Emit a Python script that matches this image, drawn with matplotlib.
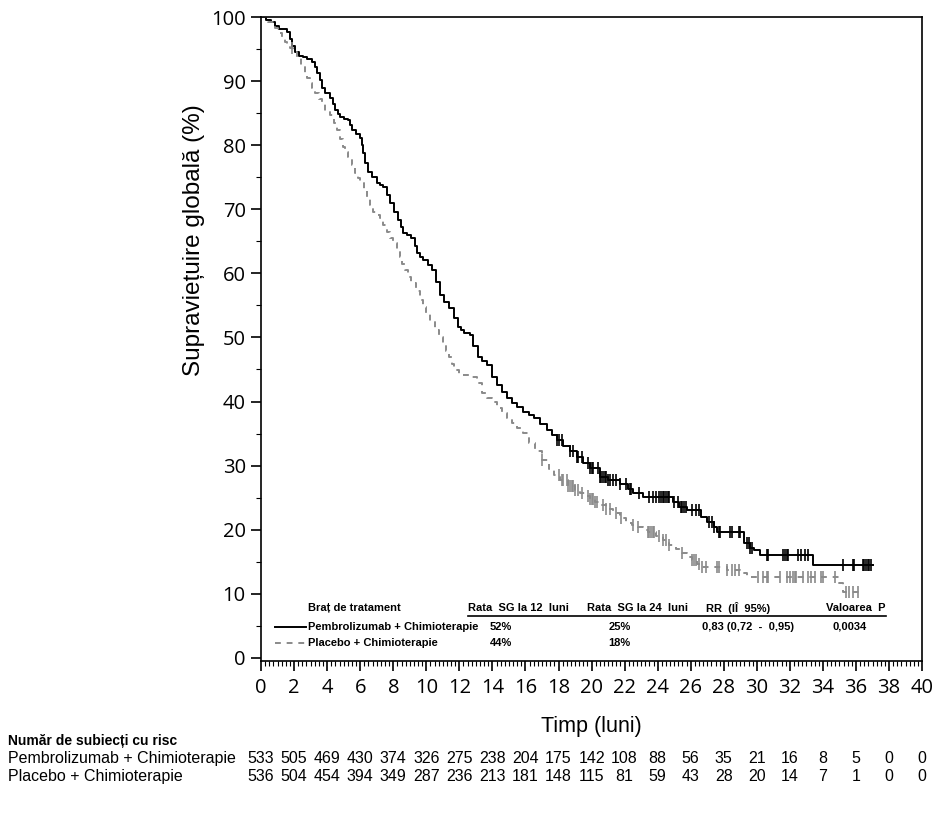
import numpy as np
import matplotlib
matplotlib.use('Agg')
import matplotlib.pyplot as plt
from matplotlib.ticker import MultipleLocator
import matplotlib.transforms as mtransforms

# Curbe Kaplan-Meier (timp in luni, supravietuire in %)
pembro_t = [0, 0.3, 0.6, 0.85, 1.1, 1.6, 1.75, 1.9, 2.06, 2.3, 2.54, 2.8, 3.09, 3.25, 3.39,
            3.55, 3.69, 3.9, 4.18, 4.33, 4.48, 4.63, 4.78, 5.0, 5.26, 5.38, 5.5, 5.75, 5.99,
            6.08, 6.17, 6.3, 6.47, 6.7, 7.0, 7.2, 7.38, 7.6, 7.8, 8.05, 8.3, 8.45, 8.6,
            8.85, 9.1, 9.3, 9.44, 9.6, 9.8, 10.1, 10.35, 10.6, 10.83, 11.1, 11.4, 11.65,
            11.9, 12.1, 12.3, 12.65, 12.85, 13.1, 13.4, 13.7, 14.0, 14.3, 14.6, 14.9,
            15.2, 15.5, 15.85, 16.2, 16.5, 16.9, 17.3, 17.6, 17.9, 18.3, 18.7, 19.1, 19.5,
            19.9, 20.5, 21.0, 21.7, 22.2, 22.5, 23.1, 24.9, 25.3, 25.8, 26.6, 27.0, 27.4,
            27.6, 29.2, 29.6, 29.8, 30.2, 33.4, 37.0]
pembro_s = [100, 99.6, 99.2, 98.7, 98.2, 97.7, 96.6, 95.5, 94.5, 94.0, 93.8, 93.4, 93.0, 92.2, 91.3,
            90.2, 88.9, 88.2, 87.4, 86.5, 85.5, 84.9, 84.4, 84.1, 83.9, 83.1, 82.4, 81.7, 81.1,
            80.0, 78.8, 77.3, 75.8, 75.0, 74.1, 73.8, 73.5, 72.2, 71.0, 69.6, 68.3, 67.3, 66.3,
            66.0, 65.5, 64.3, 63.2, 62.6, 62.1, 61.3, 60.5, 58.6, 56.6, 55.6, 54.6, 53.1,
            51.6, 51.1, 50.7, 50.4, 48.7, 47.0, 46.4, 45.7, 43.8, 42.6, 41.5, 40.6,
            39.8, 39.1, 38.4, 37.9, 37.4, 36.5, 35.6, 34.8, 34.0, 33.0, 32.2, 31.4, 30.4,
            29.6, 28.2, 27.8, 27.2, 26.3, 25.7, 25.1, 24.3, 23.6, 23.0, 21.9, 21.2, 20.4,
            19.7, 17.9, 17.2, 16.8, 16.1, 14.5, 14.5]

placebo_t = [0, 0.4, 0.85, 1.05, 1.25, 1.45, 1.6, 1.75, 1.94, 2.18, 2.4, 2.66, 2.8, 2.97,
             3.1, 3.27, 3.5, 3.69, 3.87, 4.18, 4.4, 4.6, 4.78, 4.96, 5.1, 5.26, 5.5, 5.69,
             5.85, 5.99, 6.2, 6.41, 6.6, 6.78, 7.0, 7.2, 7.4, 7.62, 7.8, 8.0, 8.2, 8.4,
             8.55, 8.7, 8.9, 9.1, 9.35, 9.6, 9.8, 10.0, 10.25, 10.5, 10.75, 11.0, 11.2,
             11.4, 11.55, 11.7, 12.0, 12.75, 13.05, 13.4, 13.7, 14.0, 14.3, 14.6, 14.9,
             15.2, 15.5, 15.85, 16.2, 16.6, 17.0, 17.4, 17.7, 18.1, 18.6, 19.0, 19.3,
             19.6, 19.9, 20.2, 20.5, 20.9, 21.3, 21.7, 22.1, 22.45, 22.8, 23.1, 23.4,
             23.9, 24.3, 24.7, 25.1, 25.5, 25.8, 26.1, 26.4, 26.7, 28.2, 29.0, 29.4,
             35.0, 35.2, 36.2]
placebo_s = [100, 99.3, 98.3, 97.6, 96.8, 96.1, 95.6, 95.2, 94.5, 93.6, 92.6, 91.3, 90.5, 89.7,
             88.9, 88.1, 87.3, 86.6, 85.2, 84.7, 83.5, 82.4, 81.0, 79.7, 79.0, 78.2, 76.9, 75.7,
             74.9, 74.1, 73.0, 71.9, 70.7, 69.6, 69.1, 68.6, 67.5, 66.5, 65.6, 64.7, 63.6, 62.6,
             61.5, 60.5, 59.5, 58.5, 57.2, 55.9, 54.8, 53.8, 52.5, 51.2, 50.0, 48.8, 47.9,
             47.0, 45.9, 44.9, 44.1, 43.8, 42.9, 41.3, 40.6, 39.9, 39.0, 38.2, 37.4,
             36.7, 35.9, 35.1, 33.5, 32.2, 30.9, 29.5, 28.5, 27.8, 26.8, 26.2, 25.7,
             25.2, 24.8, 24.3, 23.9, 23.2, 22.6, 21.8, 21.1, 20.7, 20.4, 20.0, 19.7,
             19.0, 18.4, 17.6, 16.9, 16.4, 15.8, 15.3, 14.7, 14.2, 13.7, 13.3, 12.6,
             11.7, 10.3, 10.3]

# Momente de cenzurare
pembro_cens = [17.9, 18.0, 18.2, 18.7, 18.9, 19.1, 19.2, 19.4, 19.8, 19.9, 20.0, 20.1, 20.4,
               20.5, 20.6, 20.7, 20.8, 20.9, 21.0, 21.1, 21.3, 21.5, 21.7, 22.1, 22.3, 22.4,
               22.9, 23.5, 23.7, 23.9, 24.1, 24.2, 24.3, 24.4, 24.5, 24.6, 24.7, 25.0, 25.2,
               25.4, 25.5, 25.6, 25.7, 26.1, 26.3, 26.5, 27.1, 27.3, 27.4, 27.7, 27.8, 28.4,
               28.5, 28.9, 29.0, 29.4, 29.5, 29.6, 29.7, 30.6, 30.7, 31.6, 31.7, 31.8, 31.9,
               32.5, 32.7, 32.9, 33.1, 35.2, 35.8, 35.9, 36.4, 36.5, 36.6, 36.7, 36.8, 36.9]
placebo_cens = [1.9, 17.0, 18.0, 18.2, 18.3, 18.5, 18.6, 18.7, 18.8, 18.9, 19.0, 19.2, 19.4,
                19.8, 19.9, 20.0, 20.1, 20.2, 20.3, 20.7, 20.9, 21.1, 21.5, 21.8, 22.5, 22.8,
                23.4, 23.5, 23.6, 23.7, 23.8, 24.1, 24.3, 24.5, 24.7, 25.5, 26.1, 26.2, 26.3,
                26.5, 26.7, 26.9, 27.6, 27.7, 28.2, 28.5, 28.7, 28.9, 30.1, 30.4, 30.6, 30.7,
                31.4, 31.8, 32.0, 32.2, 32.3, 32.4, 32.8, 33.1, 33.3, 33.5, 33.9, 34.0, 34.7,
                35.4, 35.6, 35.8, 36.1]

# Numar de subiecti cu risc
risk_times = list(range(0, 41, 2))
risk_pembro = [533, 505, 469, 430, 374, 326, 275, 238, 204, 175, 142, 108, 88, 56, 35, 21, 16, 8, 5, 0, 0]
risk_placebo = [536, 504, 454, 394, 349, 287, 236, 213, 181, 148, 115, 81, 59, 43, 28, 20, 14, 7, 1, 0, 0]

arm_names = ['Pembrolizumab + Chimioterapie', 'Placebo + Chimioterapie']
rate12 = ['52%', '44%']
rate24 = ['25%', '18%']
hr_text = '0,83 (0,72  -  0,95)'
p_text = '0,0034'

BLACK = '#000000'
GRAY = '#8a8a8a'


def step_value(t, s, x):
    idx = np.searchsorted(np.asarray(t), x, side='right') - 1
    return np.asarray(s)[idx]


fig = plt.figure(figsize=(9.39, 8.19), dpi=100)
ax = fig.add_axes([0.278, 0.193, 0.704, 0.786])

# curbele
ax.step(pembro_t, pembro_s, where='post', color=BLACK, lw=1.4)
ax.step(placebo_t, placebo_s, where='post', color=GRAY, lw=1.4, dashes=(3, 3))

# cenzurari
ax.plot(pembro_cens, step_value(pembro_t, pembro_s, pembro_cens), ls='none',
        marker='|', ms=9, mew=1.2, color=BLACK)
ax.plot(placebo_cens, step_value(placebo_t, placebo_s, placebo_cens), ls='none',
        marker='|', ms=9, mew=1.2, color=GRAY)

ax.set_xlim(0, 40)
ax.set_ylim(-0.5, 100)
ax.xaxis.set_major_locator(MultipleLocator(2))
ax.xaxis.set_minor_locator(MultipleLocator(0.25))
ax.yaxis.set_major_locator(MultipleLocator(10))
ax.yaxis.set_minor_locator(MultipleLocator(5))
ax.tick_params(which='major', length=7, width=1.2, labelsize=14.5)
ax.tick_params(axis='y', pad=4)
ax.tick_params(axis='x', pad=5)
ax.tick_params(which='minor', length=3.5, width=0.8)
for lab in ax.get_xticklabels() + ax.get_yticklabels():
    lab.set_fontfamily('Open Sans')
for sp in ax.spines.values():
    sp.set_linewidth(1.2)

ax.set_xlabel('Timp (luni)', fontsize=15.5, family='Liberation Sans')
ax.xaxis.set_label_coords(0.5, -0.085)
ax.set_ylabel('Supraviețuire globală (%)', fontsize=17.5, family='Liberation Sans')
ax.yaxis.set_label_coords(-0.085, 0.654)

# tabelul din grafic
tfont = dict(family='Liberation Sans', fontweight='bold', fontsize=8, va='center')
ax.text(2.85, 7.8, 'Braț de tratament', ha='left', **tfont)
ax.text(12.5, 7.8, 'Rata  SG la 12  luni', ha='left', **tfont)
ax.text(19.7, 7.8, 'Rata  SG la 24  luni', ha='left', **tfont)
ax.text(26.9, 7.8, 'RR  (IÎ  95%)', ha='left', **tfont)
ax.text(37.8, 7.8, 'Valoarea  P', ha='right', **tfont)
ax.plot([12.5, 37.8], [6.5, 6.5], color=BLACK, lw=1.2)

row_y = [4.8, 2.3]
ax.plot([0.85, 2.7], [row_y[0], row_y[0]], color=BLACK, lw=1.4)
ax.plot([0.85, 2.7], [row_y[1], row_y[1]], color=GRAY, lw=1.4, dashes=(3, 3))
for i in range(2):
    ax.text(2.85, row_y[i], arm_names[i], ha='left', **tfont)
    ax.text(14.5, row_y[i], rate12[i], ha='center', **tfont)
    ax.text(21.7, row_y[i], rate24[i], ha='center', **tfont)
ax.text(26.7, row_y[0], hr_text, ha='left', **tfont)
ax.text(35.6, row_y[0], p_text, ha='center', **tfont)

# tabelul cu numar de subiecti cu risc
trans = mtransforms.blended_transform_factory(ax.transData, fig.transFigure)
fig.text(0.0085, 0.095, 'Număr de subiecți cu risc', fontsize=10, fontweight='bold',
         family='Liberation Sans', va='center')
fig.text(0.0085, 0.0733, arm_names[0], fontsize=11.5, family='Liberation Sans', va='center')
fig.text(0.0085, 0.0513, arm_names[1], fontsize=11.5, family='Liberation Sans', va='center')
for t, a, b in zip(risk_times, risk_pembro, risk_placebo):
    ax.text(t, 0.0733, str(a), transform=trans, ha='center', va='center', fontsize=11.5,
            family='Liberation Sans', clip_on=False)
    ax.text(t, 0.0513, str(b), transform=trans, ha='center', va='center', fontsize=11.5,
            family='Liberation Sans', clip_on=False)

fig.savefig('out.png', dpi=100)
